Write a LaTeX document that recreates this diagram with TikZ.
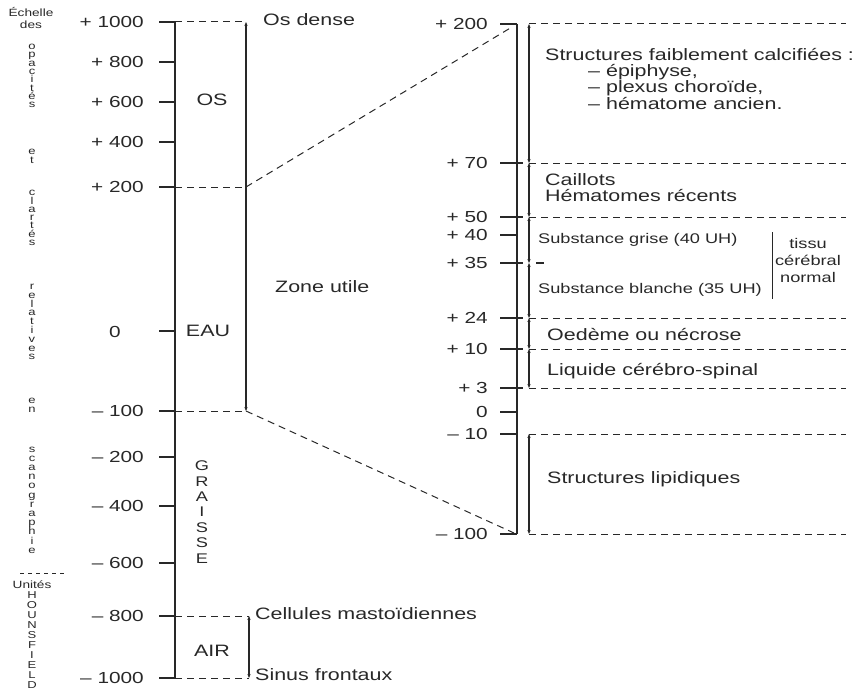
\documentclass[tikz,border=0pt]{standalone}
\usepackage{fontspec}
\setmainfont{Liberation Sans}[FakeStretch=1.3]
\usepackage{tikz}
\usetikzlibrary{arrows.meta}
\definecolor{inkgray}{RGB}{40,40,40}
\newcommand{\lblsize}{\fontsize{16.5}{16}\selectfont}
\newcommand{\numsize}{\fontsize{16}{16}\selectfont}
\newcommand{\smallsize}{\fontsize{14}{17}\selectfont}
\newcommand{\charsize}{\fontsize{10.5}{10.5}\selectfont}

\begin{document}
\begin{tikzpicture}[x=1pt, y=-1pt, inkgray,
    axis/.style={line width=1.6pt},
    tickline/.style={line width=1.1pt},
    guide/.style={line width=1pt, dash pattern=on 7pt off 5pt},
    span/.style={{Stealth[length=4pt,width=3.2pt]}-{Stealth[length=4pt,width=3.2pt]}, line width=1.1pt},
    num/.style={font=\numsize, anchor=east, inner sep=0pt},
    lbl/.style={font=\lblsize, anchor=west, inner sep=0pt, align=left},
    small/.style={font=\smallsize, anchor=west, inner sep=0pt},
    vchar/.style={font=\charsize, inner sep=0pt},
    vword/.style={font={\fontsize{10}{#1}\selectfont\lineskiplimit=-20pt}, align=center, inner sep=0pt},
    vword/.default=8.3,
    bigcap/.style={font={\fontsize{14}{15.4}\selectfont\lineskiplimit=-20pt}, align=center, inner sep=0pt},
  ]
    \useasboundingbox (0,0) rectangle (858,693);

    % --- Vertical caption (left margin) ---
    \node[vchar] (echelle) at (31,12) {Échelle};
    \node[vchar] (des) at (31,25) {des};
    \node[vword] (opacites) at (32,76) {o\\p\\a\\c\\i\\t\\é\\s};
    \node[vword=9] (et) at (32,156) {e\\t};
    \node[vword] (clartes) at (32,218) {c\\l\\a\\r\\t\\é\\s};
    \node[vword=8.8] (relatives) at (32,322) {r\\e\\l\\a\\t\\i\\v\\e\\s};
    \node[vword=9] (en) at (32,405) {e\\n};
    \node[vword=9.2] (scano) at (32,500) {s\\c\\a\\n\\o\\g\\r\\a\\p\\h\\i\\e};
    \coordinate (sepl) at (20,573);
    \coordinate (sepr) at (66,573);
    \draw[line width=0.8pt, dash pattern=on 4pt off 4pt] (sepl) -- (sepr);
    \node[vchar] (unites) at (32,585) {Unités};
    \node[vword=9.9] (hounsfield) at (32,640) {H\\O\\U\\N\\S\\F\\I\\E\\L\\D};

    % --- Left scale (-1000 .. +1000) ---
    \coordinate (ltop) at (175,22);
    \coordinate (lbot) at (175,679);
    \draw[axis] (ltop) -- (lbot);
    \foreach \n/\y/\t in {a/22/{+ 1000}, b/62/{+ 800}, c/102/{+ 600}, d/142/{+ 400},
                         e/187/{+ 200}, g/411/{– 100}, h/457/{– 200}, i/506/{– 400},
                         j/563/{– 600}, k/616/{– 800}, l/678/{– 1000}} {
      \draw[tickline] (159,\y) -- (175,\y);
      \node[num] (lv\n) at (144,\y) {\t};
    }
    \draw[tickline] (159,331) -- (175,331);
    \node[font=\numsize, inner sep=0pt] (lvzero) at (115,332) {0};

    \node[font=\lblsize, inner sep=0pt] (os) at (212,100) {OS};
    \node[font=\lblsize, inner sep=0pt] (eau) at (208,331) {EAU};
    \node[bigcap] (graisse) at (202,512) {G\\R\\A\\I\\S\\S\\E};
    \node[font=\lblsize, inner sep=0pt] (air) at (212,651) {AIR};

    % --- Useful zone ---
    \coordinate (zutop) at (246,22);
    \coordinate (zumid) at (246,187);
    \coordinate (zubot) at (246,411);
    \draw[span] (zutop) -- (zubot);
    \draw[guide] (175,22) -- (zutop);
    \draw[guide] (175,187) -- (zumid);
    \draw[guide] (175,411) -- (zubot);
    \node[lbl] (osdense) at (263,20) {Os dense};
    \node[lbl] (zone) at (275,287) {Zone utile};

    % --- Air ---
    \coordinate (airtop) at (249,616);
    \coordinate (airbot) at (249,678);
    \draw[span] (airtop) -- (airbot);
    \draw[guide] (175,616) -- (airtop);
    \draw[guide] (175,678) -- (airbot);
    \node[lbl] (mast) at (255,614) {Cellules mastoïdiennes};
    \node[lbl] (sinus) at (255,675) {Sinus frontaux};

    % --- Right scale (zoom -100 .. +200) ---
    \coordinate (rtop) at (517,24);
    \coordinate (rbot) at (517,534);
    \coordinate (rjointop) at (512,27);
    \coordinate (rjoinbot) at (514,533);
    \draw[axis] (rtop) -- (rbot);
    \draw[guide] (zumid) -- (rjointop);
    \draw[guide] (zubot) -- (rjoinbot);
    \foreach \n/\y/\t in {a/24/{+ 200}, b/163/{+ 70}, c/217/{+ 50}, d/235/{+ 40},
                         e/263/{+ 35}, f/318/{+ 24}, g/349/{+ 10}, h/388/{+ 3},
                         i/412/0, j/434/{– 10}, k/534/{– 100}} {
      \draw[tickline] (500,\y) -- (517,\y);
      \node[num] (rv\n) at (488,\y) {\t};
    }
    \foreach \y in {163,217,263,318,349,388}
      \draw[tickline] (517,\y) -- (523,\y);

    % limits of the ranges
    \foreach \y in {24,163,217,318,349,388,434,534}
      \draw[guide] (529,\y) -- (846,\y);
    \draw[tickline] (536,263) -- (544,263);
    \foreach \a/\b in {24/163, 163/217, 217/263, 263/318, 318/349, 349/388, 434/534}
      \draw[span] (529,\a) -- (529,\b);

    % --- Right labels ---
    \node[lbl] (calc) at (545,55) {Structures faiblement calcifiées :};
    \node[lbl, anchor=north west, font=\fontsize{16.5}{15}\selectfont] (calclist) at (588,64)
      {– épiphyse,\\– plexus choroïde,\\– hématome ancien.};
    \node[lbl] (caillots) at (545,188) {Caillots\\Hématomes récents};
    \node[small] (grise) at (538,240) {Substance grise (40 UH)};
    \node[small] (blanche) at (538,290) {Substance blanche (35 UH)};
    \coordinate (bartop) at (772,232);
    \coordinate (barbot) at (772,299);
    \draw[line width=1pt] (bartop) -- (barbot);
    \node[font=\smallsize, align=center, inner sep=0pt] (tissu) at (808,260) {tissu\\cérébral\\normal};
    \node[lbl] (oedeme) at (547,335) {Oedème ou nécrose};
    \node[lbl] (lcs) at (547,371) {Liquide cérébro-spinal};
    \node[lbl] (lipid) at (547,479) {Structures lipidiques};
  \end{tikzpicture}
\end{document}
